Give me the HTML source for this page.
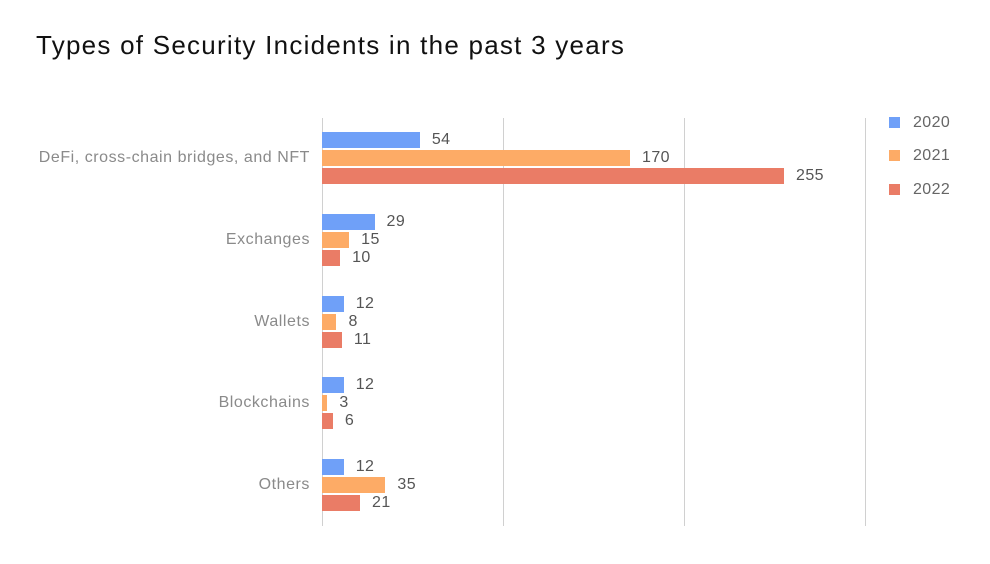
<!DOCTYPE html>
<html><head><style>
body{margin:0;width:990px;height:564px;background:#fff;position:relative;font-family:"Liberation Sans",sans-serif;overflow:hidden}
.a{position:absolute}
.g{position:absolute;top:118px;width:1px;height:408px;background:#d0d0d0}
.b{position:absolute;left:322px;height:16px}
.v{position:absolute;font-size:16px;color:#555;line-height:16px;letter-spacing:0.4px}
.c{position:absolute;right:680px;font-size:16px;color:#8a8a8a;line-height:18px;white-space:nowrap;letter-spacing:0.55px}
.l{position:absolute;left:913px;font-size:16px;color:#666;line-height:18px;letter-spacing:0.4px}
.s{position:absolute;left:889px;width:11px;height:11px}
</style></head><body>
<div class="a" style="left:36px;top:30px;font-size:26px;color:#111;letter-spacing:1.25px">Types of Security Incidents in the past 3 years</div>
<div class="g" style="left:322px"></div><div class="g" style="left:503px"></div><div class="g" style="left:684px"></div><div class="g" style="left:865px"></div>
<div id="bars"></div>
<div class="s" style="top:117px;background:#6fa0f8"></div><div class="l" style="top:114px">2020</div>
<div class="s" style="top:150px;background:#fdab66"></div><div class="l" style="top:147px">2021</div>
<div class="s" style="top:184px;background:#ea7c66"></div><div class="l" style="top:181px">2022</div>
<script>
var d=[["DeFi, cross-chain bridges, and NFT",54,170,255],["Exchanges",29,15,10],["Wallets",12,8,11],["Blockchains",12,3,6],["Others",12,35,21]];
var col=["#6fa0f8","#fdab66","#ea7c66"],h="";
d.forEach(function(r,i){var t=132+i*81.75;
h+='<div class="c" style="top:'+(t+17)+'px">'+r[0]+'</div>';
for(var j=0;j<3;j++){var y=t+j*18,w=r[j+1]*1.812;
h+='<div class="b" style="top:'+y+'px;width:'+w+'px;background:'+col[j]+'"></div>';
h+='<div class="v" style="top:'+y+'px;left:'+(322+w+12)+'px">'+r[j+1]+'</div>';}
});
document.getElementById("bars").innerHTML=h;
</script>
</body></html>
